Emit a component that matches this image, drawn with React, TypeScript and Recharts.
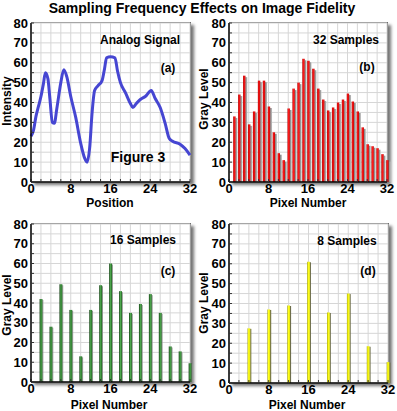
import React from 'react';
import { LineChart, BarChart, Line, Bar, XAxis, YAxis, CartesianGrid } from 'recharts';

// ---------- data ----------
const analogX = [0, 0.5, 1, 1.5, 2, 2.5, 2.9, 3.4, 3.8, 4.3, 4.7, 5.2, 6, 6.6, 7.2, 8, 9, 10, 10.8, 11.3, 11.8, 12.3, 12.8, 13.5, 14.3, 14.8, 15.2, 16, 16.9, 17.4, 18, 19, 20, 20.5, 21.2, 22, 23, 24.2, 25, 26, 27, 27.8, 28.5, 30, 31, 32];
const analogY = [23, 26, 33, 38, 43, 49.5, 55, 52, 42, 30, 29.5, 37, 50, 56.5, 53, 43, 32.5, 19.5, 12, 10, 17, 35, 46, 48.5, 51, 57, 62.5, 63, 62.5, 56, 50, 45, 39.5, 37.5, 39.5, 41.5, 43, 46, 42, 37.5, 29.5, 22, 20.5, 19, 16.8, 13.5];

const pixels32 = [1, 2, 3, 4, 5, 6, 7, 8, 9, 10, 11, 12, 13, 14, 15, 16, 17, 18, 19, 20, 21, 22, 23, 24, 25, 26, 27, 28, 29, 30, 31, 32];
const samples32 = [33, 44, 53.5, 29, 35.5, 51, 51, 38, 25, 14.5, 11, 37, 47, 50, 62, 61, 57, 47, 41.5, 36, 37.5, 40, 41.5, 44.5, 40.5, 35.5, 27.5, 19, 18, 17, 14, 11];

const pixels16 = [2, 4, 6, 8, 10, 12, 14, 16, 18, 20, 22, 24, 26, 28, 30, 32];
const samples16 = [42, 28, 49.5, 36.5, 13, 36.5, 49, 60, 46, 35, 39.5, 44.5, 35, 18, 15.5, 9.5];

const pixels8 = [4, 8, 12, 16, 20, 24, 28, 32];
const samples8 = [27.5, 37, 39, 61, 35.5, 45, 18.5, 10.5];

const xTicks = [0, 2, 4, 6, 8, 10, 12, 14, 16, 18, 20, 22, 24, 26, 28, 30, 32];
const yTicks = [0, 5, 10, 15, 20, 25, 30, 35, 40, 45, 50, 55, 60, 65, 70, 75, 80];

const analogData = analogX.map((x, i) => ({ x, v: analogY[i] }));
const data32 = pixels32.map((x, i) => ({ x, v: samples32[i] }));
const data16 = pixels16.map((x, i) => ({ x, v: samples16[i] }));
const data8 = pixels8.map((x, i) => ({ x, v: samples8[i] }));

// ---------- styles ----------
const FONT = '"Liberation Sans", Arial, Helvetica, sans-serif';
const tickStyle = { fontSize: 13, fontWeight: 700, fill: '#000', fontFamily: FONT };

const fmtX = (v: number) => (v % 8 === 0 ? String(v) : '');
const fmtY = (v: number) => (v % 10 === 0 ? String(v) : '');

function axes(yWidth: number, xHeight: number) {
  return [
    <CartesianGrid key="g" stroke="#d6d6d6" strokeWidth={1} fill="#ffffff" />,
    <XAxis
      key="x"
      dataKey="x"
      type="number"
      domain={[0, 32]}
      ticks={xTicks}
      interval={0}
      tickFormatter={fmtX}
      height={xHeight}
      tickSize={-3}
      tickMargin={5}
      tick={tickStyle}
      axisLine={{ stroke: '#000', strokeWidth: 1.5 }}
      tickLine={{ stroke: '#333' }}
    />,
    <YAxis
      key="y"
      type="number"
      domain={[0, 80]}
      ticks={yTicks}
      interval={0}
      tickFormatter={fmtY}
      width={yWidth}
      tickSize={-3}
      tickMargin={6}
      tick={tickStyle}
      axisLine={{ stroke: '#000', strokeWidth: 1.5 }}
      tickLine={{ stroke: '#333' }}
    />,
  ];
}

const RedBar = (p: any) => {
  const { x, y, width, height } = p;
  if (height == null || height <= 0) return null;
  const cx = x + width / 2;
  return (
    <g>
      <rect x={cx + 2.1} y={y + 1.5} width={1.9} height={height - 1.5} fill="url(#grayShade)" />
      <rect x={cx - 0.3} y={y} width={2.4} height={height} fill="url(#redShade)" />
    </g>
  );
};

const GreenBar = (p: any) => {
  const { x, y, width, height } = p;
  if (height == null || height <= 0) return null;
  const cx = x + width / 2;
  return (
    <g>
      <rect x={cx + 1.4} y={y + 1} width={1} height={height - 1} fill="#9a9a9a" />
      <rect x={cx - 1.4} y={y} width={2.9} height={height} fill="url(#greenShade)" />
    </g>
  );
};

const YellowBar = (p: any) => {
  const { x, y, width, height } = p;
  if (height == null || height <= 0) return null;
  const cx = x + width / 2;
  return (
    <g>
      <rect x={cx + 1.2} y={y + 0.5} width={1.2} height={height - 0.5} fill="#6e6e4a" />
      <rect x={cx - 1.4} y={y} width={2.7} height={height} fill="url(#yellowShade)" />
    </g>
  );
};

const Defs = () => (
  <defs>
    <linearGradient id="redShade" x1="0" y1="0" x2="1" y2="0">
      <stop offset="0%" stopColor="#b00000" />
      <stop offset="45%" stopColor="#ff1a1a" />
      <stop offset="100%" stopColor="#c00000" />
    </linearGradient>
    <linearGradient id="grayShade" x1="0" y1="0" x2="1" y2="0">
      <stop offset="0%" stopColor="#7a7a7a" />
      <stop offset="100%" stopColor="#c4c4c4" />
    </linearGradient>
    <linearGradient id="greenShade" x1="0" y1="0" x2="1" y2="0">
      <stop offset="0%" stopColor="#123f12" />
      <stop offset="50%" stopColor="#4fa84f" />
      <stop offset="100%" stopColor="#1b5e1b" />
    </linearGradient>
    <linearGradient id="yellowShade" x1="0" y1="0" x2="1" y2="0">
      <stop offset="0%" stopColor="#9a9a00" />
      <stop offset="40%" stopColor="#ffff20" />
      <stop offset="100%" stopColor="#e6e600" />
    </linearGradient>
  </defs>
);

const PlotShadow = ({ l, t, w, h }: { l: number; t: number; w: number; h: number }) => (
  <div
    style={{
      position: 'absolute',
      left: l,
      top: t,
      width: w,
      height: h,
      background: '#fff',
      borderTop: '1px solid #777',
      borderRight: '1px solid #666',
      boxSizing: 'content-box',
      marginTop: -1,
      boxShadow: '3px 3px 3px rgba(0,0,0,0.55)',
    }}
  />
);

const T = (props: any) => (
  <text fontFamily={FONT} fontWeight={700} fill="#000" textAnchor="middle" {...props} />
);

export default function App() {
  return (
    <div style={{ position: 'absolute', left: 0, top: 0, width: 397, height: 411, background: '#fff', overflow: 'hidden' }}>
      <PlotShadow l={31} t={23} w={159} h={159} />
      <PlotShadow l={229} t={23} w={158} h={159} />
      <PlotShadow l={31} t={224} w={159} h={158} />
      <PlotShadow l={229} t={224} w={159} h={159} />

      <div style={{ position: 'absolute', left: 0, top: 0 }}>
        <LineChart width={200} height={210} data={analogData} margin={{ top: 23, right: 10, left: 0, bottom: 0 }}>
          {axes(31, 28)}
          <Line type="monotone" dataKey="v" stroke="#4646d2" strokeWidth={3} dot={false} isAnimationActive={false} />
        </LineChart>
      </div>

      <div style={{ position: 'absolute', left: 197, top: 0 }}>
        <BarChart width={200} height={210} data={data32} margin={{ top: 23, right: 10, left: 0, bottom: 0 }}>
          <Defs />
          {axes(32, 28)}
          <Bar dataKey="v" barSize={4} shape={RedBar} isAnimationActive={false} />
        </BarChart>
      </div>

      <div style={{ position: 'absolute', left: 0, top: 205 }}>
        <BarChart width={200} height={206} data={data16} margin={{ top: 19, right: 10, left: 0, bottom: 0 }}>
          <Defs />
          {axes(31, 29)}
          <Bar dataKey="v" barSize={4} shape={GreenBar} isAnimationActive={false} />
        </BarChart>
      </div>

      <div style={{ position: 'absolute', left: 197, top: 205 }}>
        <BarChart width={200} height={206} data={data8} margin={{ top: 19, right: 9, left: 0, bottom: 0 }}>
          <Defs />
          {axes(32, 28)}
          <Bar dataKey="v" barSize={4} shape={YellowBar} isAnimationActive={false} />
        </BarChart>
      </div>

      <svg width={397} height={411} style={{ position: 'absolute', left: 0, top: 0, pointerEvents: 'none' }}>
        <T x={202} y={13} fontSize={14}>Sampling Frequency Effects on Image Fidelity</T>

        <T x={140} y={44} fontSize={12}>Analog Signal</T>
        <T x={168} y={72} fontSize={12}>(a)</T>
        <T x={138} y={162} fontSize={14}>Figure 3</T>
        <T x={110} y={207} fontSize={12}>Position</T>
        <T x={0} y={0} fontSize={12} transform="translate(11,101) rotate(-90)">Intensity</T>

        <T x={346} y={43.5} fontSize={12}>32 Samples</T>
        <T x={367} y={71} fontSize={12}>(b)</T>
        <T x={308} y={207} fontSize={12}>Pixel Number</T>
        <T x={0} y={0} fontSize={12} transform="translate(208,99) rotate(-90)">Gray Level</T>

        <T x={143} y={244} fontSize={12}>16 Samples</T>
        <T x={168} y={274.5} fontSize={12}>(c)</T>
        <T x={109} y={408.5} fontSize={12}>Pixel Number</T>
        <T x={0} y={0} fontSize={12} transform="translate(11,305) rotate(-90)">Gray Level</T>

        <T x={347} y={244.5} fontSize={12}>8 Samples</T>
        <T x={368} y={274.5} fontSize={12}>(d)</T>
        <T x={307} y={408.5} fontSize={12}>Pixel Number</T>
        <T x={0} y={0} fontSize={12} transform="translate(208,303) rotate(-90)">Gray Level</T>
      </svg>
    </div>
  );
}
